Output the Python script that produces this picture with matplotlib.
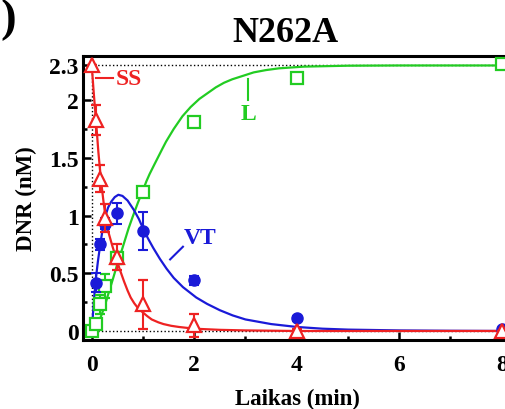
import numpy as np
import matplotlib
matplotlib.use('Agg')
import matplotlib.pyplot as plt
from matplotlib.ticker import MultipleLocator

plt.rcParams['font.family'] = ['Liberation Serif', 'DejaVu Serif']
plt.rcParams['font.weight'] = 'bold'

# measured points
t_pts = [0, 5/60., 10/60., 15/60., 0.5, 1, 2, 4, 8]
ss_y = [2.3, 1.83, 1.32, 0.98, 0.64, 0.23, 0.05, 0.0, 0.0]
ss_err = [0, 0.13, 0.12, 0.12, 0.11, 0.21, 0.1, 0.02, 0.0]

vt_t = [5/60., 10/60., 15/60., 0.5, 1, 2, 4, 8]
vt_y = [0.42, 0.75, 0.93, 1.02, 0.87, 0.44, 0.11, 0.02]
vt_err = [0.08, 0.05, 0.05, 0.09, 0.165, 0.04, 0.02, 0.0]

l_y = [0.0, 0.06, 0.23, 0.39, 0.63, 1.2, 1.81, 2.19, 2.31]
l_err = [0, 0.02, 0.08, 0.1, 0.05, 0.03, 0.0, 0.0, 0.0]

# fitted curves
ss_ct = [0, 0.04, 0.084, 0.13, 0.18, 0.23, 0.27, 0.33, 0.4, 0.47, 0.55, 0.63, 0.7,
         0.76, 0.83, 0.9, 1.0, 1.08, 1.17, 1.3, 1.4, 1.55, 1.7, 2.0, 2.5, 3.0, 4.0, 8.2]
ss_cy = [2.3, 2.06, 1.82, 1.55, 1.31, 1.12, 0.99, 0.85, 0.74, 0.64, 0.53, 0.43, 0.35,
         0.29, 0.24, 0.2, 0.16, 0.13, 0.1, 0.075, 0.06, 0.045, 0.035, 0.02, 0.01,
         0.005, 0.0, 0.0]

vt_ct = [0, 0.02, 0.05, 0.08, 0.12, 0.17, 0.22, 0.27, 0.32, 0.38, 0.45, 0.52, 0.6,
         0.7, 0.82, 0.92, 1.0, 1.1, 1.2, 1.33, 1.46, 1.6, 1.78, 2.04, 2.25, 2.5,
         2.75, 3.0, 3.25, 3.5, 4.0, 4.5, 5.0, 6.0, 7.0, 8.2]
vt_cy = [0, 0.12, 0.3, 0.45, 0.6, 0.76, 0.9, 1.0, 1.07, 1.12, 1.16, 1.18, 1.17,
         1.13, 1.05, 0.97, 0.89, 0.8, 0.72, 0.625, 0.54, 0.46, 0.38, 0.29, 0.235, 0.18,
         0.135, 0.10, 0.08, 0.06, 0.035, 0.02, 0.012, 0.005, 0.002, 0.0]

l_ct = [0, 0.05, 0.1, 0.15, 0.2, 0.27, 0.33, 0.42, 0.5, 0.58, 0.65, 0.72, 0.8, 0.9,
        1.0, 1.07, 1.13, 1.22, 1.3, 1.38, 1.45, 1.6, 1.77, 1.93, 2.1, 2.26, 2.42,
        2.58, 2.74, 2.95, 3.16, 3.4, 3.65, 4.14, 5.0, 6.0, 8.2]
l_cy = [0, 0.01, 0.04, 0.09, 0.15, 0.24, 0.33, 0.46, 0.58, 0.69, 0.79, 0.89, 0.99, 1.11,
        1.22, 1.3, 1.36, 1.44, 1.51, 1.58, 1.64, 1.75, 1.86, 1.94, 2.01, 2.06, 2.11,
        2.15, 2.18, 2.21, 2.24, 2.26, 2.275, 2.29, 2.298, 2.3, 2.3]

red = '#ee2222'
blue = '#1a1ad8'
green = '#22cc22'

fig = plt.figure(figsize=(5.06, 4.10), dpi=100)
ax = fig.add_axes([83/506., 69/410., 429/506., 284/410.])

ax.axhline(2.3, color='k', ls=':', lw=1, zorder=1)
ax.axhline(0, color='k', ls=':', lw=1, zorder=1)
ax.axvline(0, color='k', ls=':', lw=1, zorder=1)

ax.plot(l_ct, l_cy, color=green, lw=1.6, zorder=2)
ax.plot(vt_ct, vt_cy, color=blue, lw=1.6, zorder=2)
ax.plot(ss_ct, ss_cy, color=red, lw=1.6, zorder=2)

ax.errorbar(t_pts, l_y, yerr=l_err, fmt='s', ms=8, mfc='white', mec=green, mew=1.6,
            ecolor=green, elinewidth=1.5, capsize=3.5, capthick=1.5, zorder=3)
ax.errorbar(vt_t, vt_y, yerr=vt_err, fmt='o', ms=8, mfc=blue, mec=blue,
            ecolor=blue, elinewidth=1.5, capsize=3.5, capthick=1.5, zorder=4)
ax.errorbar(t_pts, ss_y, yerr=ss_err, fmt='^', ms=10, mfc='white', mec=red, mew=1.6,
            ecolor=red, elinewidth=1.5, capsize=3.5, capthick=1.5, zorder=5)

# curve labels
ax.plot([0.08, 0.41], [2.195, 2.195], color=red, lw=1.5)
ax.text(0.47, 2.19, 'SS', color=red, fontsize=17, fontweight='bold', va='center', ha='left')
ax.plot([3.04, 3.04], [2.0, 2.18], color=green, lw=1.5)
ax.text(3.06, 1.88, 'L', color=green, fontsize=17, fontweight='bold', va='center', ha='center')
ax.plot([1.53, 1.78], [0.62, 0.73], color=blue, lw=1.5)
ax.text(2.12, 0.81, 'VT', color=blue, fontsize=17, fontweight='bold', va='center', ha='center')

ax.set_xlim(-0.17, 8.2)
ax.set_ylim(-0.078, 2.382)
ax.set_xticks([0, 2, 4, 6, 8])
ax.xaxis.set_minor_locator(MultipleLocator(1))
ax.set_yticks([0, 0.5, 1, 1.5, 2, 2.3])
ax.set_yticklabels(['0', '0.5', '1', '1.5', '2', '2.3'])
ax.yaxis.set_minor_locator(MultipleLocator(0.25))
ax.tick_params(which='both', direction='in', width=1.8, labelsize=17)
ax.tick_params(which='major', length=6)
ax.tick_params(which='minor', length=3)
ax.tick_params(axis='x', pad=10)
ax.tick_params(axis='y', pad=3)
for lab in ax.get_xticklabels() + ax.get_yticklabels():
    lab.set_fontweight('bold')
for s in ax.spines.values():
    s.set_linewidth(2.2)

ax.set_xlabel('Laikas (min)', fontsize=16.5, fontweight='bold', labelpad=9)
ax.set_ylabel('DNR (nM)', fontsize=16.5, fontweight='bold', labelpad=9)

fig.text(285/506., 1 - 34/410., 'N262A', fontsize=26, fontweight='bold', ha='center', va='center')
fig.text(0.0, 1 - 20/410., ')', fontsize=34, ha='left', va='center')

fig.savefig('out.png', dpi=100)
